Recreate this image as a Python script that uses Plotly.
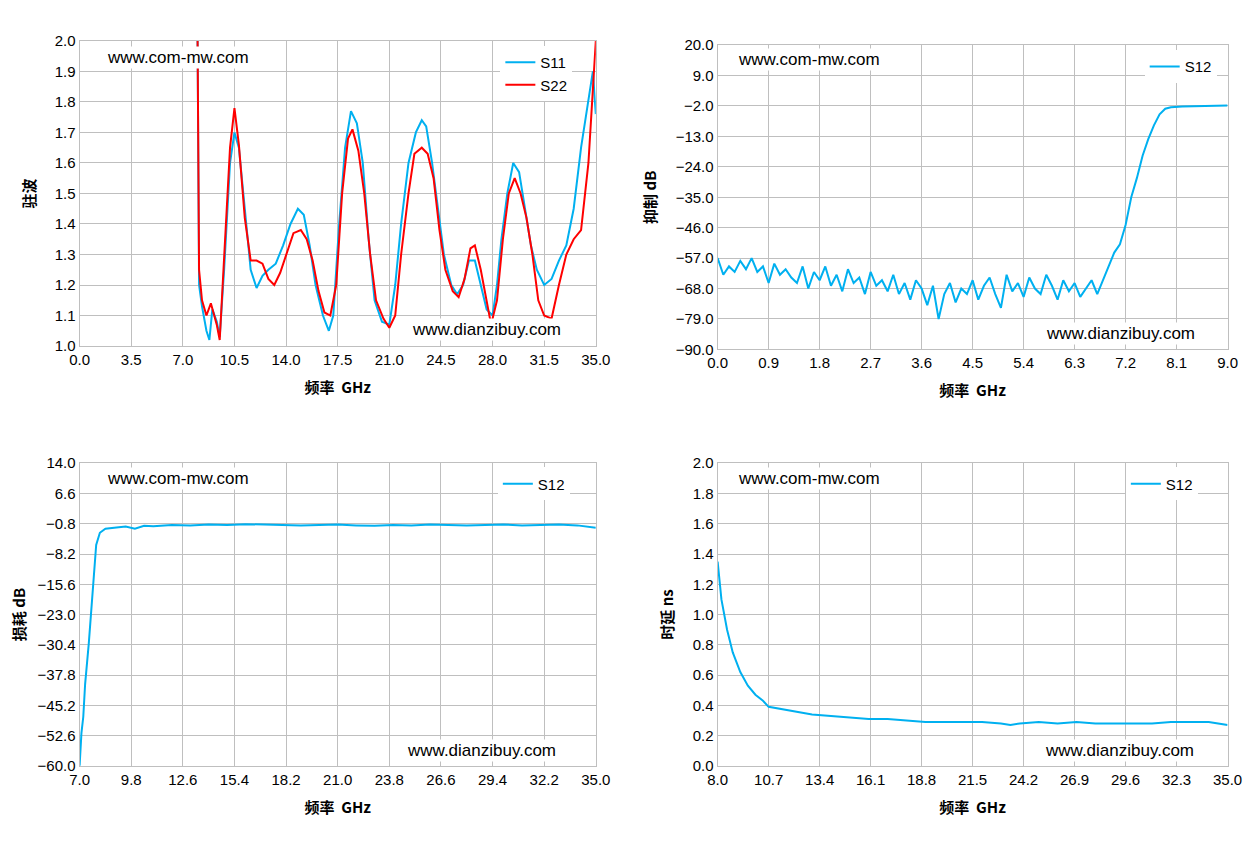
import plotly.graph_objects as go

# Values
vswr_x = [8.0, 8.1, 8.3, 8.6, 8.8, 9.0, 9.3, 9.5, 9.8, 10.2, 10.5, 10.8, 11.2, 11.6, 12.0, 12.4, 12.8, 13.3, 13.8, 14.3, 14.8, 15.2, 15.6, 16.0, 16.5, 16.9, 17.2, 17.6, 18.0, 18.4, 18.8, 19.2, 19.6, 20.0, 20.5, 21.0, 21.4, 21.8, 22.3, 22.8, 23.2, 23.5, 23.9, 24.3, 24.7, 25.2, 25.6, 26.0, 26.4, 26.8, 27.2, 27.6, 28.0, 28.3, 28.6, 29.0, 29.4, 29.8, 30.2, 30.6, 31.0, 31.5, 32.0, 32.5, 33.0, 33.5, 34.0, 34.5, 34.8, 35.0]
s11 = [2.0, 1.2, 1.13, 1.05, 1.02, 1.12, 1.08, 1.03, 1.25, 1.6, 1.7, 1.65, 1.45, 1.25, 1.19, 1.23, 1.25, 1.27, 1.33, 1.4, 1.45, 1.43, 1.33, 1.2, 1.1, 1.05, 1.1, 1.4, 1.65, 1.77, 1.73, 1.6, 1.35, 1.15, 1.08, 1.07, 1.2, 1.4, 1.6, 1.7, 1.74, 1.72, 1.6, 1.45, 1.3, 1.2, 1.17, 1.2, 1.28, 1.28, 1.2, 1.12, 1.1, 1.2, 1.35, 1.5, 1.6, 1.57, 1.45, 1.33, 1.25, 1.2, 1.22, 1.28, 1.33, 1.45, 1.65, 1.8, 1.9, 1.76]
s22_x = [8.0, 8.1, 8.3, 8.6, 8.9, 9.3, 9.5, 9.8, 10.2, 10.5, 10.8, 11.2, 11.6, 12.0, 12.4, 12.8, 13.2, 13.6, 14.0, 14.5, 15.0, 15.4, 15.8, 16.2, 16.6, 17.0, 17.4, 17.8, 18.2, 18.5, 18.9, 19.3, 19.7, 20.1, 20.6, 21.0, 21.4, 21.8, 22.3, 22.7, 23.2, 23.6, 24.0, 24.4, 24.8, 25.3, 25.7, 26.1, 26.5, 26.8, 27.2, 27.6, 27.9, 28.3, 28.7, 29.1, 29.5, 29.9, 30.3, 30.7, 31.1, 31.5, 32.0, 32.5, 33.0, 33.5, 34.0, 34.5, 35.0]
s22 = [2.0, 1.25, 1.15, 1.1, 1.14, 1.07, 1.02, 1.3, 1.65, 1.78, 1.66, 1.42, 1.28, 1.28, 1.27, 1.22, 1.2, 1.24, 1.3, 1.37, 1.38, 1.35, 1.28, 1.18, 1.11, 1.1, 1.2, 1.5, 1.68, 1.71, 1.64, 1.5, 1.3, 1.15, 1.09, 1.06, 1.1, 1.3, 1.5, 1.63, 1.65, 1.63, 1.55, 1.38, 1.25, 1.18, 1.16, 1.22, 1.32, 1.33, 1.25, 1.15, 1.07, 1.15, 1.35, 1.5, 1.55, 1.5, 1.42, 1.3, 1.15, 1.1, 1.09, 1.2, 1.3, 1.35, 1.38, 1.6, 2.0]

rej_x = [round(0.1 * i, 1) for i in range(68)] + [6.8, 6.9, 7.0, 7.1, 7.2, 7.3, 7.4, 7.5, 7.6, 7.7, 7.8, 7.9, 8.0, 8.2, 8.5, 9.0]
rej = [-57, -63, -60, -62, -58, -61, -57, -62, -60, -66, -59, -63, -61, -64, -66, -60, -68, -62, -65, -60, -67, -63, -69, -61, -66, -64, -70, -62, -67, -65, -69, -63, -70, -66, -72, -65, -68, -74, -67, -79, -70, -66, -73, -68, -70, -65, -72, -67, -64, -70, -75, -63, -69, -66, -71, -64, -68, -70, -63, -67, -72, -65, -69, -66, -71, -68, -65, -70,
       -65, -60, -55, -52, -45, -35, -28, -20, -14, -9, -5, -3, -2.5, -2.2, -2.0, -1.8]

loss_x = [7.0, 7.1, 7.2, 7.3, 7.5, 7.7, 7.9, 8.1, 8.4, 9.0, 9.5, 10.0, 10.5, 11, 12, 13, 14, 15, 16, 17, 18, 19, 20, 21, 22, 23, 24, 25, 26, 27, 28, 29, 30, 31, 32, 33, 34, 35]
loss = [-60, -52, -48, -40, -30, -18, -6, -3, -2, -1.7, -1.5, -2.0, -1.3, -1.4, -1.1, -1.2, -1.0, -1.1, -0.9, -1.0, -1.1, -1.2, -1.1, -1.0, -1.2, -1.3, -1.1, -1.2, -1.0, -1.1, -1.2, -1.1, -1.0, -1.2, -1.1, -1.0, -1.2, -1.8]

delay_x = [8.0, 8.2, 8.5, 8.8, 9.2, 9.6, 10.0, 10.4, 10.7, 11.2, 12, 13, 14, 15, 16, 17, 18, 19, 20, 21, 22, 23, 23.5, 24, 25, 26, 27, 28, 29, 30, 31, 32, 33, 34, 34.5, 35]
delay = [1.35, 1.1, 0.9, 0.75, 0.62, 0.53, 0.47, 0.43, 0.39, 0.38, 0.36, 0.34, 0.33, 0.32, 0.31, 0.31, 0.30, 0.29, 0.29, 0.29, 0.29, 0.28, 0.27, 0.28, 0.29, 0.28, 0.29, 0.28, 0.28, 0.28, 0.28, 0.29, 0.29, 0.29, 0.28, 0.27]

BLUE = "rgb(0,176,240)"
RED = "rgb(255,0,0)"

fig = go.Figure()
fig.add_trace(go.Scatter(x=vswr_x, y=s11, name="S11", line=dict(color=BLUE, width=2), xaxis="x", yaxis="y", legend="legend"))
fig.add_trace(go.Scatter(x=s22_x, y=s22, name="S22", line=dict(color=RED, width=2), xaxis="x", yaxis="y", legend="legend"))
fig.add_trace(go.Scatter(x=rej_x, y=rej, name="S12", line=dict(color=BLUE, width=2), xaxis="x2", yaxis="y2", legend="legend2"))
fig.add_trace(go.Scatter(x=loss_x, y=loss, name="S12", line=dict(color=BLUE, width=2), xaxis="x3", yaxis="y3", legend="legend3"))
fig.add_trace(go.Scatter(x=delay_x, y=delay, name="S12", line=dict(color=BLUE, width=2), xaxis="x4", yaxis="y4", legend="legend4"))

tick_font = dict(family="Liberation Sans", size=15, color="black")
title_font = dict(family="Noto Sans CJK SC", size=15, color="black")
ax = dict(showgrid=True, gridcolor="#bfbfbf", showline=True, linecolor="#bfbfbf", mirror=True, zeroline=False,
          tickfont=tick_font, ticks="", automargin=False, tickformat=".1f")
xl, xr = [0.057, 0.468], [0.565, 0.971]
yt, yb = [0.599, 0.961], [0.101, 0.460]

fig.update_layout(
    width=1256, height=843, margin=dict(l=0, r=0, t=0, b=0),
    plot_bgcolor="white", paper_bgcolor="white", showlegend=True,
    xaxis=dict(ax, domain=xl, range=[0, 35], dtick=3.5, tick0=0, anchor="y", title=dict(text="<b>频率  GHz</b>", font=title_font)),
    yaxis=dict(ax, domain=yt, range=[1.0, 2.0], dtick=0.1, tick0=1.0, anchor="x", title=dict(text="<b>驻波</b>", font=title_font)),
    xaxis2=dict(ax, domain=xr, range=[0, 9], dtick=0.9, tick0=0, anchor="y2", title=dict(text="<b>频率  GHz</b>", font=title_font)),
    yaxis2=dict(ax, domain=[0.595, 0.956], range=[-90, 20], dtick=11, tick0=-90, anchor="x2", title=dict(text="<b>抑制 dB</b>", font=title_font)),
    xaxis3=dict(ax, domain=xl, range=[7, 35], dtick=2.8, tick0=7, anchor="y3", title=dict(text="<b>频率  GHz</b>", font=title_font)),
    yaxis3=dict(ax, domain=yb, range=[-60, 14], dtick=7.4, tick0=-60, anchor="x3", title=dict(text="<b>损耗 dB</b>", font=title_font)),
    xaxis4=dict(ax, domain=xr, range=[8, 35], dtick=2.7, tick0=8, anchor="y4", title=dict(text="<b>频率  GHz</b>", font=title_font)),
    yaxis4=dict(ax, domain=yb, range=[0, 2], dtick=0.2, tick0=0, anchor="x4", title=dict(text="<b>时延 ns</b>", font=title_font)),
    legend=dict(x=0.392, y=0.955, xanchor="left", yanchor="top", bgcolor="white", font=tick_font),
    legend2=dict(x=0.905, y=0.95, xanchor="left", yanchor="top", bgcolor="white", font=tick_font),
    legend3=dict(x=0.39, y=0.455, xanchor="left", yanchor="top", bgcolor="white", font=tick_font),
    legend4=dict(x=0.89, y=0.455, xanchor="left", yanchor="top", bgcolor="white", font=tick_font),
)

wm_font = dict(family="Liberation Sans", size=17, color="black")
for x, y in [(0.077, 0.955), (0.58, 0.952), (0.077, 0.455), (0.58, 0.455)]:
    fig.add_annotation(text="www.com-mw.com", xref="paper", yref="paper", x=x, y=y, xanchor="left", yanchor="top", showarrow=False, font=wm_font, bgcolor="white")
for x, y in [(0.32, 0.632), (0.825, 0.628), (0.316, 0.133), (0.824, 0.133)]:
    fig.add_annotation(text="www.dianzibuy.com", xref="paper", yref="paper", x=x, y=y, xanchor="left", yanchor="top", showarrow=False, font=wm_font, bgcolor="white")

fig.write_html("out.html")
